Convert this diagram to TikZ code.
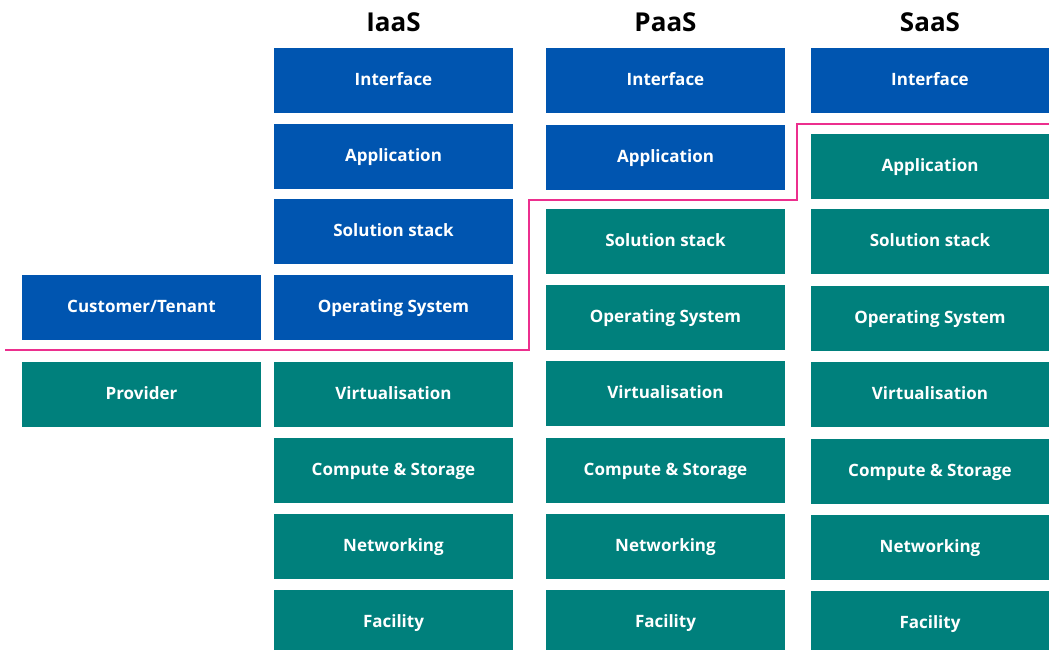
\documentclass[tikz,border=0pt]{standalone}
\usepackage{fontspec}
\setmainfont{Open Sans}
\usepackage{xcolor}
\definecolor{custblue}{HTML}{0055B0}
\definecolor{provteal}{HTML}{00807C}
\definecolor{splitpink}{HTML}{EC2F8E}

\begin{document}
\begin{tikzpicture}[x=1pt,y=-1pt]
    \tikzstyle{layer}=[rectangle,minimum width=239pt,minimum height=65pt,inner sep=0pt,text height=1.08em,text depth=0pt,text=white,font=\fontsize{17}{20}\selectfont\bfseries]
    \tikzstyle{cust}=[layer,fill=custblue]
    \tikzstyle{prov}=[layer,fill=provteal]
    \tikzstyle{heading}=[font=\fontsize{26}{30}\selectfont\bfseries]

    \useasboundingbox (0,0) rectangle (1049,649);
    \clip (0,0) rectangle (1049,649);

    % headings
    \node[heading] (hiaas) at (393.5,22) {IaaS};
    \node[heading] (hpaas) at (665.5,22) {PaaS};
    \node[heading] (hsaas) at (930,22) {SaaS};

    % legend column
    \node[cust] (tenant)   at (141.5,307.5) {Customer/Tenant};
    \node[prov] (provider) at (141.5,394.5) {Provider};

    % IaaS
    \node[cust] (i1) at (393.5,80.5)  {Interface};
    \node[cust] (i2) at (393.5,156.5) {Application};
    \node[cust] (i3) at (393.5,231.5) {Solution stack};
    \node[cust] (i4) at (393.5,307.5) {Operating System};
    \node[prov] (i5) at (393.5,394.5) {Virtualisation};
    \node[prov] (i6) at (393.5,470.5) {Compute \& Storage};
    \node[prov] (i7) at (393.5,546.5) {Networking};
    \node[prov] (i8) at (393.5,622.5) {Facility};

    % PaaS
    \node[cust] (p1) at (665.5,80.5)  {Interface};
    \node[cust] (p2) at (665.5,157.5) {Application};
    \node[prov] (p3) at (665.5,241.5) {Solution stack};
    \node[prov] (p4) at (665.5,317.5) {Operating System};
    \node[prov] (p5) at (665.5,393.5) {Virtualisation};
    \node[prov] (p6) at (665.5,470.5) {Compute \& Storage};
    \node[prov] (p7) at (665.5,546.5) {Networking};
    \node[prov] (p8) at (665.5,622.5) {Facility};

    % SaaS
    \node[cust,minimum width=238pt] (s1) at (930,80.5)  {Interface};
    \node[prov,minimum width=238pt] (s2) at (930,166.5) {Application};
    \node[prov,minimum width=238pt] (s3) at (930,241.5) {Solution stack};
    \node[prov,minimum width=238pt] (s4) at (930,318.5) {Operating System};
    \node[prov,minimum width=238pt] (s5) at (930,394.5) {Virtualisation};
    \node[prov,minimum width=238pt] (s6) at (930,471.5) {Compute \& Storage};
    \node[prov,minimum width=238pt] (s7) at (930,547.5) {Networking};
    \node[prov,minimum width=238pt] (s8) at (930,623.5) {Facility};

    % split between customer and provider
    \coordinate (c1) at (5,350);
    \coordinate (c2) at (529,350);
    \coordinate (c3) at (529,200);
    \coordinate (c4) at (797,200);
    \coordinate (c5) at (797,124);
    \coordinate (c6) at (1049,124);
    \draw[splitpink,line width=2pt] (c1) -- (c2) -- (c3) -- (c4) -- (c5) -- (c6);
\end{tikzpicture}
\end{document}
